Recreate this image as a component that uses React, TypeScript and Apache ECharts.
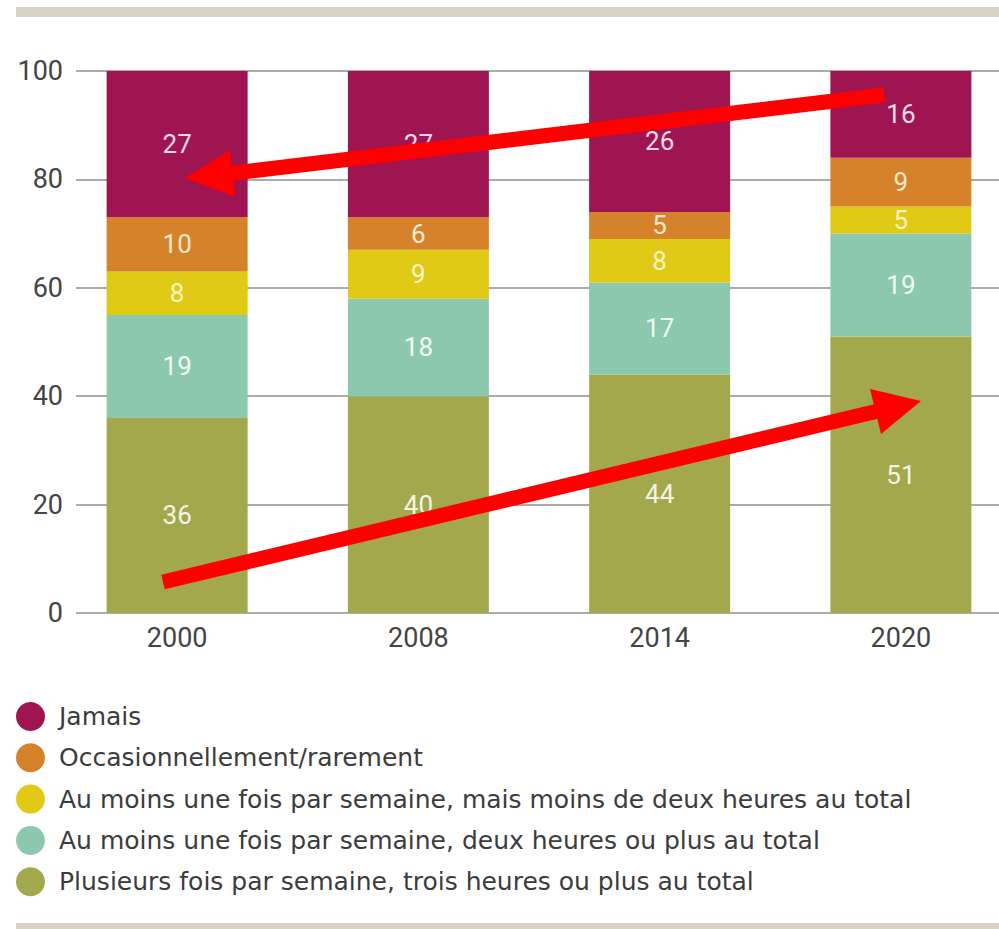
import React, { useEffect, useRef } from "react";
import * as echarts from "echarts";

const categories = ["2000", "2008", "2014", "2020"];
const yTicks = [0, 20, 40, 60, 80, 100];

const seriesNames = [
  "Plusieurs fois par semaine, trois heures ou plus au total",
  "Au moins une fois par semaine, deux heures ou plus au total",
  "Au moins une fois par semaine, mais moins de deux heures au total",
  "Occasionnellement/rarement",
  "Jamais",
];
const plusieurs = [36, 40, 44, 51];
const deuxPlus = [19, 18, 17, 19];
const moinsDeux = [8, 9, 8, 5];
const occasion = [10, 6, 5, 9];
const jamais = [27, 27, 26, 16];

const seriesValues = [plusieurs, deuxPlus, moinsDeux, occasion, jamais];
const seriesColors = ["#a2a84b", "#8cc8ad", "#e0ca16", "#d6822a", "#9e1552"];
const labelColors = ["#f4f4e6", "#f2faf5", "#fbf3c4", "#fbe9cf", "#f3dbe7"];
const legendOrder = [4, 3, 2, 1, 0].map((i) => seriesNames[i]);

const FONT = "Roboto, 'DejaVu Sans', sans-serif";
const LEGEND_FONT = "'DejaVu Sans', sans-serif";

export default function App() {
  const ref = useRef<HTMLDivElement>(null);
  useEffect(() => {
    document.body.style.margin = "0";
    const chart = echarts.init(ref.current!, undefined, { renderer: "svg" });
    const option: any = {
      animation: false,
      backgroundColor: "#ffffff",
      textStyle: { fontFamily: FONT },
      grid: [
        { left: 56.5, width: 965, top: 71, bottom: 316, outerBoundsMode: "none", containLabel: false },
        { left: 76, right: 0, top: 71, bottom: 316, outerBoundsMode: "none", containLabel: false },
      ],
      xAxis: [
        {
          type: "category",
          gridIndex: 0,
          data: categories,
          axisLine: { show: false },
          axisTick: { show: false },
          axisLabel: { color: "#444", fontSize: 27, margin: 11, fontFamily: FONT },
        },
        { type: "value", gridIndex: 1, show: false, min: 0, max: 1 },
      ],
      yAxis: [
        { type: "value", gridIndex: 0, min: 0, max: 100, show: false },
        {
          type: "value",
          gridIndex: 1,
          min: 0,
          max: 100,
          interval: 20,
          axisLine: { show: false },
          axisTick: { show: false },
          axisLabel: {
            color: "#444",
            fontSize: 27,
            margin: 13,
            fontFamily: FONT,
            formatter: (v: number) => (yTicks.includes(v) ? String(v) : ""),
          },
          splitLine: { lineStyle: { color: "#8f8f8f", width: 1.5 } },
        },
      ],
      legend: {
        orient: "vertical",
        left: 16,
        top: 702,
        padding: 0,
        itemWidth: 29,
        itemHeight: 29,
        itemGap: 12.3,
        icon: "circle",
        data: legendOrder,
        textStyle: { color: "#3c3c3c", fontSize: 25, fontFamily: LEGEND_FONT, padding: [0, 0, 0, 9] },
      },
      series: seriesNames.map((name, i) => ({
        name,
        type: "bar",
        stack: "total",
        xAxisIndex: 0,
        yAxisIndex: 0,
        barWidth: 141,
        data: seriesValues[i],
        itemStyle: { color: seriesColors[i] },
        label: {
          show: true,
          position: "inside",
          color: labelColors[i],
          fontSize: 26,
          fontFamily: FONT,
        },
      })),
      graphic: [
        { type: "rect", left: 16, top: 7, shape: { width: 983, height: 10 }, style: { fill: "#d8d3c5" }, silent: true },
        { type: "rect", left: 16, top: 923, shape: { width: 983, height: 6 }, style: { fill: "#d8d3c5" }, silent: true },
        {
          type: "line",
          shape: { x1: 884, y1: 95, x2: 230, y2: 173.5 },
          style: { stroke: "#ff0000", lineWidth: 15 },
          z: 100,
          silent: true,
        },
        {
          type: "polygon",
          shape: { points: [[185, 178], [230, 150], [235, 197]] },
          style: { fill: "#ff0000" },
          z: 100,
          silent: true,
        },
        {
          type: "line",
          shape: { x1: 163, y1: 582, x2: 878, y2: 411 },
          style: { stroke: "#ff0000", lineWidth: 15 },
          z: 100,
          silent: true,
        },
        {
          type: "polygon",
          shape: { points: [[921, 401], [870, 389], [881, 434]] },
          style: { fill: "#ff0000" },
          z: 100,
          silent: true,
        },
      ],
    };
    chart.setOption(option);
    return () => chart.dispose();
  }, []);
  return <div ref={ref} style={{ width: 999, height: 929 }} />;
}
